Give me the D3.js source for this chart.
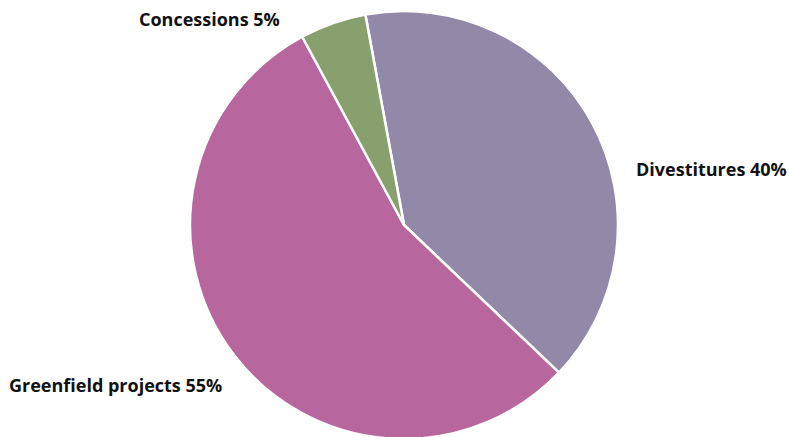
<!DOCTYPE html>
<html><head><meta charset="utf-8">
<script src="https://cdn.jsdelivr.net/npm/d3@7"></script>
<style>body{margin:0;background:#fff;}svg{display:block;}</style>
</head><body>
<svg id="chart" width="789" height="437"></svg>
<script>
const categories = ["Divestitures", "Greenfield projects", "Concessions"];
const values = [40, 55, 5];
const colors = ["#9289A8", "#B8679E", "#87A06E"];
const labelAnchors = [[636, 176, "start"], [9, 392, "start"], [139, 26, "start"]];

const svg = d3.select("#chart");
const cx = 404, cy = 225, r = 214;
const startAngle = -10.4 * Math.PI / 180;
const pie = d3.pie().sort(null).value(d => d.v)
  .startAngle(startAngle).endAngle(startAngle + 2 * Math.PI);
const arc = d3.arc().innerRadius(0).outerRadius(r);
const data = categories.map((c, i) => ({c, v: values[i], col: colors[i]}));
const g = svg.append("g").attr("transform", `translate(${cx},${cy})`);
g.selectAll("path").data(pie(data)).join("path")
  .attr("d", arc).attr("fill", d => d.data.col)
  .attr("stroke", "#fff").attr("stroke-width", 2.5).attr("stroke-linejoin", "round");

svg.selectAll("text.lbl").data(data).join("text").attr("class", "lbl")
  .attr("x", (d, i) => labelAnchors[i][0]).attr("y", (d, i) => labelAnchors[i][1])
  .attr("text-anchor", (d, i) => labelAnchors[i][2])
  .attr("font-family", "'Open Sans', sans-serif").attr("font-weight", 700)
  .attr("font-size", 18).attr("fill", "#111")
  .text(d => `${d.c} ${d.v}%`);
</script>
</body></html>
